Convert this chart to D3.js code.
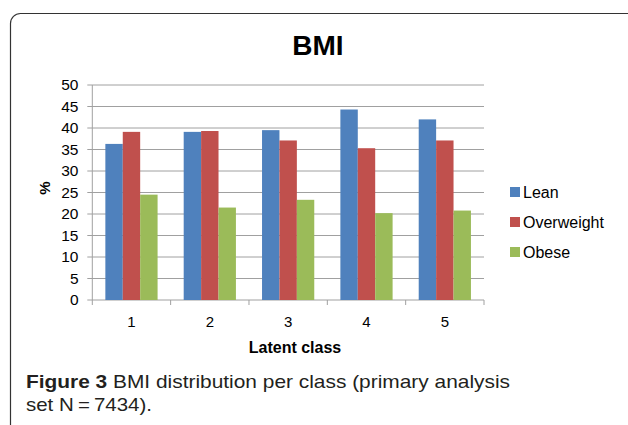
<!DOCTYPE html>
<html>
<head>
<meta charset="utf-8">
<script src="https://cdn.jsdelivr.net/npm/d3@7"></script>
<style>
  body { margin: 0; background: #fff; }
  svg { display: block; }
</style>
</head>
<body>
<div id="chart"></div>
<script>
// chart data
var classes = ["1", "2", "3", "4", "5"];
var seriesNames = ["Lean", "Overweight", "Obese"];
var lean = [36.3, 39.1, 39.5, 44.3, 42.0];
var overweight = [39.1, 39.3, 37.1, 35.3, 37.1];
var obese = [24.5, 21.5, 23.3, 20.2, 20.8];
var yTicks = [0, 5, 10, 15, 20, 25, 30, 35, 40, 45, 50];
var colors = ["#4F81BD", "#C0504D", "#9BBB59"];

var svgWidth = 628, svgHeight = 425;
var plot = { left: 92.3, right: 484, top: 85, bottom: 300 };
var font = "Liberation Sans, Arial, sans-serif";

var svg = d3.select("#chart").append("svg")
  .attr("width", svgWidth)
  .attr("height", svgHeight);

// outer rounded frame
svg.append("rect")
  .attr("x", 10.5).attr("y", 13.5)
  .attr("width", 640).attr("height", 430)
  .attr("rx", 10).attr("ry", 10)
  .attr("fill", "none")
  .attr("stroke", "#333")
  .attr("stroke-width", 1.2);

var x0 = d3.scaleBand().domain(classes)
  .range([plot.left, plot.right])
  .paddingInner(1.5 / 4.5).paddingOuter(0.75 / 4.5);
var x1 = d3.scaleBand().domain(seriesNames).range([0, x0.bandwidth()]);
var y = d3.scaleLinear().domain([0, 50]).range([plot.bottom, plot.top]);

// gridlines
svg.append("g").selectAll("line").data(yTicks).enter().append("line")
  .attr("x1", plot.left - 5).attr("x2", plot.right)
  .attr("y1", d => y(d)).attr("y2", d => y(d))
  .attr("stroke", "#a0a0a0").attr("stroke-width", 1);

// y axis line
svg.append("line")
  .attr("x1", plot.left).attr("x2", plot.left)
  .attr("y1", plot.top).attr("y2", plot.bottom)
  .attr("stroke", "#a0a0a0");

// x category ticks
var edges = d3.range(classes.length + 1).map(i => plot.left + i * (plot.right - plot.left) / classes.length);
svg.append("g").selectAll("line").data(edges).enter().append("line")
  .attr("x1", d => d).attr("x2", d => d)
  .attr("y1", plot.bottom).attr("y2", plot.bottom + 5)
  .attr("stroke", "#a0a0a0");

// bars
var rows = classes.map((c, i) => ({ cls: c, vals: [lean[i], overweight[i], obese[i]] }));
var groups = svg.append("g").selectAll("g").data(rows).enter().append("g")
  .attr("transform", d => `translate(${x0(d.cls)},0)`);
groups.selectAll("rect")
  .data(d => d.vals.map((v, j) => ({ name: seriesNames[j], v: v, j: j })))
  .enter().append("rect")
  .attr("x", d => x1(d.name))
  .attr("y", d => y(d.v))
  .attr("width", x1.bandwidth())
  .attr("height", d => y(0) - y(d.v))
  .attr("fill", d => colors[d.j]);

// y tick labels
svg.append("g").selectAll("text").data(yTicks).enter().append("text")
  .attr("x", 78.5).attr("y", d => y(d))
  .attr("dy", "0.35em")
  .attr("text-anchor", "end")
  .attr("font-family", font)
  .attr("font-size", 15.5)
  .text(d => d);

// x tick labels
svg.append("g").selectAll("text").data(classes).enter().append("text")
  .attr("x", d => x0(d) + x0.bandwidth() / 2).attr("y", 327)
  .attr("text-anchor", "middle")
  .attr("font-family", font)
  .attr("font-size", 15)
  .text(d => d);

// title and axis titles
svg.append("text")
  .attr("x", 318).attr("y", 55)
  .attr("text-anchor", "middle")
  .attr("font-family", font)
  .attr("font-size", 28).attr("font-weight", "bold")
  .text("BMI");

svg.append("text")
  .attr("x", 295).attr("y", 353)
  .attr("text-anchor", "middle")
  .attr("font-family", font)
  .attr("font-size", 16).attr("font-weight", "bold")
  .text("Latent class");

svg.append("text")
  .attr("transform", "translate(50,188) rotate(-90)")
  .attr("text-anchor", "middle")
  .attr("font-family", font)
  .attr("font-size", 15).attr("font-weight", "bold")
  .text("%");

// legend
var legend = svg.append("g").selectAll("g").data(seriesNames).enter().append("g")
  .attr("transform", (d, i) => `translate(510,${192 + i * 30})`);
legend.append("rect")
  .attr("x", 0).attr("y", -5).attr("width", 10).attr("height", 10)
  .attr("fill", (d, i) => colors[i]);
legend.append("text")
  .attr("x", 13).attr("y", 0).attr("dy", "0.35em")
  .attr("font-family", font)
  .attr("font-size", 16)
  .text(d => d);

// figure caption
var cap = svg.append("text")
  .attr("font-family", "Liberation Sans Narrow, Liberation Sans, sans-serif")
  .attr("font-size", 19)
  .attr("fill", "#231f20");
var l1 = cap.append("tspan").attr("x", 26).attr("y", 388).attr("textLength", 484).attr("lengthAdjust", "spacingAndGlyphs");
l1.append("tspan").attr("font-weight", "bold").text("Figure 3");
l1.append("tspan").text(" BMI distribution per class (primary analysis");
cap.append("tspan").attr("x", 26).attr("y", 411).attr("textLength", 126).attr("lengthAdjust", "spacingAndGlyphs")
  .text("set N\u2009=\u20097434).");
</script>
</body>
</html>
